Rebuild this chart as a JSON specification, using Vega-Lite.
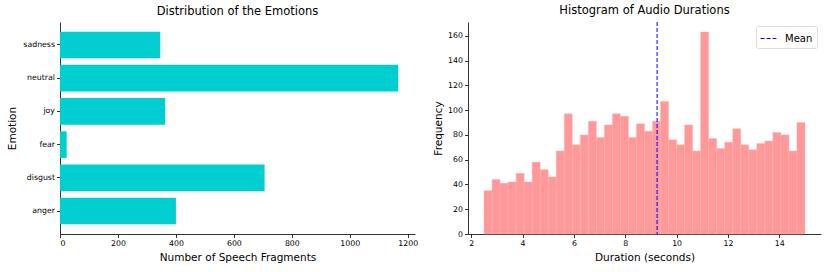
{
  "$schema": "https://vega.github.io/schema/vega-lite/v6.json",
  "padding": {"left": 7, "top": 5, "right": 5, "bottom": 5},
  "config": {
    "font": "DejaVu Sans",
    "view": {"stroke": null},
    "axis": {"grid": false, "domainColor": "black", "tickColor": "black", "labelColor": "black", "titleColor": "black", "labelFontSize": 7.8, "titleFontSize": 10.5, "titleFontWeight": "normal", "tickSize": 3.5, "domainWidth": 0.8, "tickWidth": 0.8, "labelPadding": 2, "titlePadding": 4},
    "axisX": {"titlePadding": 5},
    "title": {"fontSize": 11.5, "fontWeight": "normal", "offset": 5}
  },
  "bounds": "flush",
  "spacing": 53,
  "resolve": {"legend": {"color": "independent"}, "scale": {"color": "independent"}},
  "hconcat": [
    {
      "title": "Distribution of the Emotions",
      "width": 355,
      "height": 212,
      "data": {"values": [
        {"emotion": "anger", "count": 400},
        {"emotion": "disgust", "count": 706},
        {"emotion": "fear", "count": 23},
        {"emotion": "joy", "count": 363},
        {"emotion": "neutral", "count": 1167},
        {"emotion": "sadness", "count": 346}
      ]},
      "mark": {"type": "bar", "color": "#00CED1"},
      "encoding": {
        "x": {"field": "count", "type": "quantitative", "title": "Number of Speech Fragments", "scale": {"domain": [0, 1225], "nice": false}, "axis": {"values": [0, 200, 400, 600, 800, 1000, 1200], "format": "d"}},
        "y": {"field": "emotion", "type": "nominal", "sort": "descending", "title": "Emotion", "scale": {"paddingInner": 0.2, "paddingOuter": 0.29}, "axis": {"titlePadding": 5}}
      }
    },
    {
      "title": "Histogram of Audio Durations",
      "width": 353,
      "height": 212,
      "layer": [
        {
          "data": {"values": [
            {"start": 2.5, "end": 2.8125, "count": 35},
            {"start": 2.8125, "end": 3.125, "count": 44},
            {"start": 3.125, "end": 3.4375, "count": 41},
            {"start": 3.4375, "end": 3.75, "count": 42},
            {"start": 3.75, "end": 4.0625, "count": 49},
            {"start": 4.0625, "end": 4.375, "count": 42},
            {"start": 4.375, "end": 4.6875, "count": 58},
            {"start": 4.6875, "end": 5.0, "count": 52},
            {"start": 5.0, "end": 5.3125, "count": 46},
            {"start": 5.3125, "end": 5.625, "count": 67},
            {"start": 5.625, "end": 5.9375, "count": 97},
            {"start": 5.9375, "end": 6.25, "count": 72},
            {"start": 6.25, "end": 6.5625, "count": 80},
            {"start": 6.5625, "end": 6.875, "count": 91},
            {"start": 6.875, "end": 7.1875, "count": 78},
            {"start": 7.1875, "end": 7.5, "count": 88},
            {"start": 7.5, "end": 7.8125, "count": 97},
            {"start": 7.8125, "end": 8.125, "count": 95},
            {"start": 8.125, "end": 8.4375, "count": 78},
            {"start": 8.4375, "end": 8.75, "count": 89},
            {"start": 8.75, "end": 9.0625, "count": 83},
            {"start": 9.0625, "end": 9.375, "count": 91},
            {"start": 9.375, "end": 9.6875, "count": 107},
            {"start": 9.6875, "end": 10.0, "count": 76},
            {"start": 10.0, "end": 10.3125, "count": 72},
            {"start": 10.3125, "end": 10.625, "count": 88},
            {"start": 10.625, "end": 10.9375, "count": 67},
            {"start": 10.9375, "end": 11.25, "count": 163},
            {"start": 11.25, "end": 11.5625, "count": 77},
            {"start": 11.5625, "end": 11.875, "count": 69},
            {"start": 11.875, "end": 12.1875, "count": 74},
            {"start": 12.1875, "end": 12.5, "count": 85},
            {"start": 12.5, "end": 12.8125, "count": 72},
            {"start": 12.8125, "end": 13.125, "count": 68},
            {"start": 13.125, "end": 13.4375, "count": 73},
            {"start": 13.4375, "end": 13.75, "count": 75},
            {"start": 13.75, "end": 14.0625, "count": 82},
            {"start": 14.0625, "end": 14.375, "count": 80},
            {"start": 14.375, "end": 14.6875, "count": 67},
            {"start": 14.6875, "end": 15.0, "count": 90}
          ]},
          "mark": {"type": "bar", "color": "#FF9999", "stroke": "#FFB0B0", "strokeWidth": 0.4},
          "encoding": {
            "x": {"field": "start", "type": "quantitative", "title": "Duration (seconds)", "scale": {"domain": [1.875, 15.625], "nice": false, "zero": false}, "axis": {"values": [2, 4, 6, 8, 10, 12, 14]}},
            "x2": {"field": "end"},
            "y": {"field": "count", "type": "quantitative", "title": "Frequency", "scale": {"domain": [0, 171.15], "nice": false}, "axis": {"values": [0, 20, 40, 60, 80, 100, 120, 140, 160]}},
            "y2": {"datum": 0}
          }
        },
        {
          "data": {"values": [{"mean": 9.24, "label": "Mean"}]},
          "mark": {"type": "rule", "strokeDash": [4, 2], "strokeWidth": 1},
          "encoding": {
            "x": {"field": "mean", "type": "quantitative"},
            "color": {"field": "label", "type": "nominal", "scale": {"range": ["blue"]}, "legend": {"title": null, "orient": "top-right", "symbolType": "stroke", "symbolDash": [4, 2], "symbolStrokeWidth": 1, "symbolSize": 250, "labelFontSize": 10, "labelOffset": 8, "fillColor": "white", "strokeColor": "#dddddd", "padding": 4, "cornerRadius": 2, "offset": 4}}
          }
        }
      ]
    }
  ]
}
